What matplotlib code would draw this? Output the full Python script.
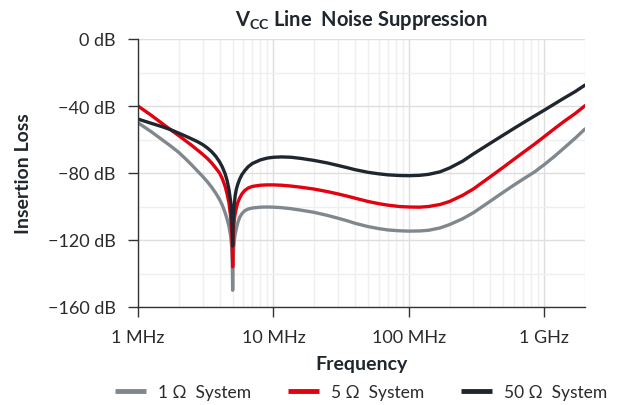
import matplotlib
matplotlib.use("Agg")
import matplotlib.pyplot as plt
from matplotlib.ticker import FixedLocator, LogLocator, NullFormatter
import numpy as np

plt.rcParams['font.family'] = ['Lato', 'DejaVu Sans']
plt.rcParams['mathtext.fontset'] = 'custom'
plt.rcParams['mathtext.rm'] = 'Lato'

# Frequency in MHz
freq_mhz = [1, 1.25, 1.5, 1.75, 2, 2.25, 2.5, 2.75, 3, 3.25, 3.5, 3.75, 4, 4.2, 4.4,
            4.55, 4.7, 4.83, 4.92, 4.97, 5.0, 5.03, 5.08, 5.15, 5.22, 5.32, 5.45,
            5.63, 5.85, 6.13, 6.5, 7, 8, 9, 10, 11.5, 13.5, 16, 20, 25, 30, 35, 40,
            50, 60, 70, 85, 100, 120, 140, 170, 200, 250, 300, 400, 500, 600, 700,
            850, 1000, 1200, 1400, 1700, 2000]

loss_1ohm = [-50.0, -55.3, -60.0, -64.0, -67.7, -71.6, -75.3, -78.8, -82.0, -85.2,
             -88.5, -92.0, -95.8, -99.3, -103.8, -107.5, -112.0, -117.5, -124.0,
             -133.0, -150.0, -135.0, -126.0, -120.0, -116.5, -113.4, -109.8, -106.5,
             -104.3, -102.6, -101.5, -100.9, -100.4, -100.3, -100.4, -100.7, -101.3,
             -102.2, -103.5, -105.3, -107.0, -108.5, -110.0, -112.0, -113.2, -114.0,
             -114.5, -114.7, -114.6, -114.2, -112.8, -110.8, -107.3, -103.7, -96.8,
             -91.4, -87.1, -83.6, -79.3, -75.0, -69.8, -65.1, -59.1, -53.7]

loss_5ohm = [-40.0, -45.5, -50.3, -54.3, -57.7, -60.8, -63.6, -66.3, -68.8, -71.3,
             -74.0, -77.0, -80.0, -83.5, -88.0, -92.5, -98.0, -106.0, -115.0, -124.0,
             -136.0, -122.0, -113.0, -107.5, -104.3, -101.0, -97.8, -95.0, -92.5,
             -90.5, -89.0, -88.0, -87.3, -87.1, -87.1, -87.3, -87.8, -88.5, -89.6,
             -91.1, -92.5, -93.8, -95.0, -97.0, -98.3, -99.2, -100.0, -100.3, -100.4,
             -100.0, -98.8, -97.0, -93.3, -89.5, -82.2, -76.5, -71.7, -67.7, -62.7,
             -58.3, -53.3, -49.2, -44.4, -39.8]

loss_50ohm = [-47.8, -50.3, -52.3, -54.2, -56.2, -58.0, -59.7, -61.3, -63.0, -65.0,
              -67.3, -70.0, -73.3, -76.5, -80.5, -84.5, -90.0, -97.0, -105.0, -113.0,
              -123.5, -110.0, -103.0, -98.0, -93.5, -89.8, -86.8, -83.7, -81.0, -78.7,
              -76.3, -74.3, -72.2, -71.1, -70.6, -70.4, -70.6, -71.3, -72.5, -74.0,
              -75.5, -76.8, -78.0, -79.6, -80.5, -81.1, -81.5, -81.6, -81.4, -80.8,
              -79.3, -77.0, -72.9, -68.6, -62.2, -57.3, -53.3, -50.0, -45.9, -42.5,
              -38.6, -35.3, -31.3, -27.5]

series_labels = ["1 \u03a9  System", "5 \u03a9  System", "50 \u03a9  System"]
series_colors = ["#80888e", "#e3000f", "#1f262d"]

x_ticks_mhz = [1, 10, 100, 1000]
x_tick_labels = ["1 MHz", "10 MHz", "100 MHz", "1 GHz"]
y_ticks = [0, -40, -80, -120, -160]
y_tick_labels = ["0 dB", "\u221240 dB", "\u221280 dB", "\u2212120 dB", "\u2212160 dB"]

fig = plt.figure(figsize=(6.17, 4.06), dpi=100)
ax = fig.add_axes([138/617, 1-308/406, (585-138)/617, (308-40)/406])

f_hz = np.array(freq_mhz) * 1e6
for vals, lab, col in zip([loss_1ohm, loss_5ohm, loss_50ohm], series_labels, series_colors):
    ax.plot(f_hz, vals, color=col, lw=2.4, label=lab,
            solid_capstyle='round', solid_joinstyle='round')

ax.set_xscale('log')
ax.set_xlim(1e6, 2e9)
ax.set_ylim(-160, 0)

ax.xaxis.set_major_locator(FixedLocator([v*1e6 for v in x_ticks_mhz]))
ax.set_xticklabels(x_tick_labels)
ax.xaxis.set_minor_locator(LogLocator(base=10, subs=np.arange(2, 10)))
ax.xaxis.set_minor_formatter(NullFormatter())
ax.set_yticks(y_ticks)
ax.set_yticklabels(y_tick_labels)
ax.set_yticks(np.arange(-140, 0, 40), minor=True)

ax.grid(which='major', color='#dedede', lw=1.0)
ax.grid(which='minor', color='#efefef', lw=1.0)
ax.set_axisbelow(True)

for s in ['top', 'right']:
    ax.spines[s].set_visible(False)
for s in ['left', 'bottom']:
    ax.spines[s].set_color('#333333')
    ax.spines[s].set_linewidth(1.0)

ax.tick_params(axis='both', which='major', direction='out', length=7, width=1,
               color='#333333', labelsize=13, labelcolor='#2a2a2a')
ax.tick_params(axis='y', which='major', pad=9)
ax.tick_params(axis='x', which='major', pad=9)
ax.tick_params(axis='both', which='minor', length=0)

ax.set_xlabel("Frequency", fontsize=14, fontweight='bold', color='#1f262d')
ax.xaxis.set_label_coords(0.5, -0.18)
ax.set_ylabel("Insertion Loss", fontsize=14, fontweight='bold', color='#1f262d')
ax.yaxis.set_label_coords(-0.237, 0.5)

fig.text(361/617, 1-20/406, r"$\mathregular{V_{CC}}$ Line  Noise Suppression",
         ha='center', va='center', fontsize=14.5, fontweight='bold', color='#1f262d')

leg = fig.legend(loc='center', bbox_to_anchor=(361/617, 1-393/406), ncol=3,
                 frameon=False, fontsize=12.5, handlelength=1.8, handletextpad=0.7,
                 columnspacing=2.1, borderaxespad=0)
for t in leg.get_texts():
    t.set_color('#2a2a2a')
for h in leg.legend_handles:
    h.set_linewidth(3.5)
    h.set_solid_capstyle('butt')

fig.savefig("out.png", dpi=100)
